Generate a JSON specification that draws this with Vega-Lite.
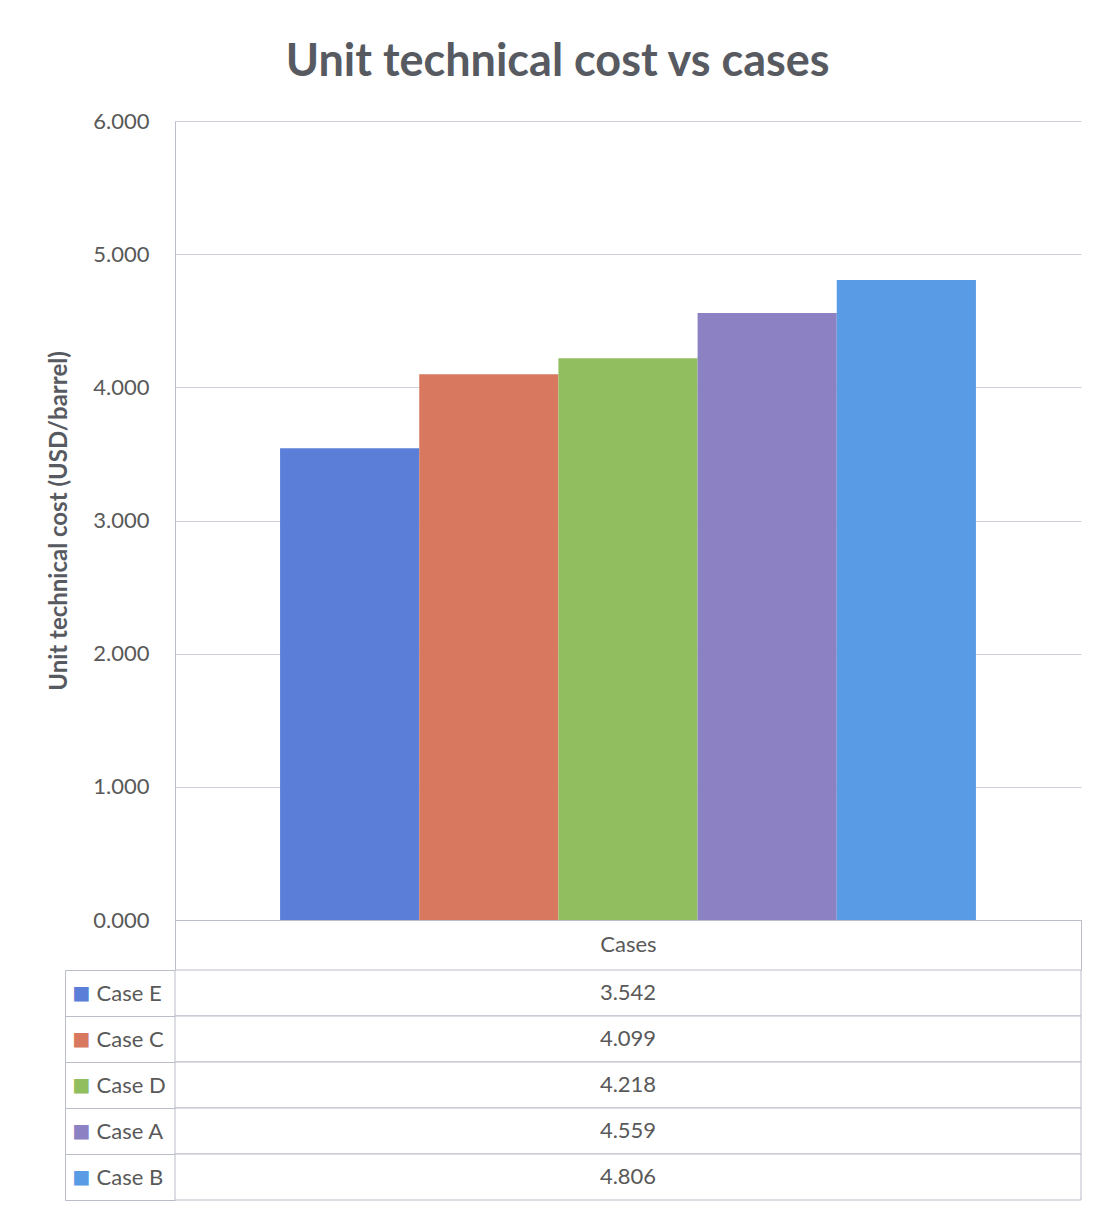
{
  "$schema": "https://vega.github.io/schema/vega-lite/v6.json",
  "background": "white",
  "padding": {"left": 47, "top": 40, "right": 26, "bottom": 8},
  "title": {
    "text": "Unit technical cost vs cases",
    "font": "Lato",
    "fontSize": 45,
    "fontWeight": "bold",
    "color": "#575a60",
    "anchor": "middle",
    "dx": -7,
    "offset": 25
  },
  "data": {
    "values": [
      {"case": "Case E", "group": "Cases", "cost": 3.542},
      {"case": "Case C", "group": "Cases", "cost": 4.099},
      {"case": "Case D", "group": "Cases", "cost": 4.218},
      {"case": "Case A", "group": "Cases", "cost": 4.559},
      {"case": "Case B", "group": "Cases", "cost": 4.806}
    ]
  },
  "bounds": "flush",
  "spacing": 50,
  "resolve": {"scale": {"x": "independent", "y": "independent"}},
  "vconcat": [
    {
      "width": 906,
      "height": 799,
      "mark": {"type": "bar"},
      "encoding": {
        "x": {
          "field": "group",
          "type": "nominal",
          "scale": {"paddingInner": 0, "paddingOuter": 0},
          "axis": {
            "title": null,
            "labelAngle": 0,
            "labelFontSize": 22,
            "labelColor": "#595959",
            "labelPadding": -36,
            "tickBand": "extent",
            "tickSize": 50,
            "tickColor": "#b9bdc7",
            "domainColor": "#b9bdc7"
          }
        },
        "xOffset": {
          "field": "case",
          "type": "nominal",
          "sort": ["Case E", "Case C", "Case D", "Case A", "Case B"],
          "scale": {"paddingInner": 0, "paddingOuter": 0.755}
        },
        "y": {
          "field": "cost",
          "type": "quantitative",
          "scale": {"domain": [0, 6]},
          "axis": {
            "title": "Unit technical cost (USD/barrel)",
            "titleFontSize": 24,
            "titleFontWeight": "bold",
            "titleColor": "#575a60",
            "titlePadding": 21,
            "values": [0, 1, 2, 3, 4, 5, 6],
            "format": ".3f",
            "labelFontSize": 22,
            "labelColor": "#595959",
            "labelPadding": 26,
            "ticks": false,
            "grid": true,
            "domain": true
          }
        },
        "color": {
          "field": "case",
          "type": "nominal",
          "scale": {
            "domain": ["Case E", "Case C", "Case D", "Case A", "Case B"],
            "range": ["#5b7fd8", "#d7785f", "#91be5f", "#8c82c3", "#5a9be6"]
          },
          "legend": null
        }
      }
    },
    {
      "width": 906,
      "height": 230,
      "encoding": {
        "x": {
          "field": "group",
          "type": "nominal",
          "scale": {"paddingInner": 0, "paddingOuter": 0},
          "axis": null
        }
      },
      "layer": [
        {
          "mark": {"type": "rect", "fill": "white", "stroke": "#b9bdc7", "strokeWidth": 1},
          "encoding": {
            "y": {
              "field": "case",
              "type": "nominal",
              "sort": ["Case E", "Case C", "Case D", "Case A", "Case B"],
              "scale": {"paddingInner": 0, "paddingOuter": 0},
              "axis": {
                "orient": "left",
                "offset": 110,
                "title": null,
                "labelExpr": "'■'",
                "labelFont": "DejaVu Sans",
                "labelFontSize": 19,
                "labelAlign": "center",
                "labelPadding": -16,
                "ticks": false,
                "tickSize": 0,
                "grid": false,
                "domain": true,
                "domainColor": "#b9bdc7",
                "labelColor": {
                  "condition": [
                    {"test": "datum.value === 'Case E'", "value": "#5b7fd8"},
                    {"test": "datum.value === 'Case C'", "value": "#d7785f"},
                    {"test": "datum.value === 'Case D'", "value": "#91be5f"},
                    {"test": "datum.value === 'Case A'", "value": "#8c82c3"}
                  ],
                  "value": "#5a9be6"
                }
              }
            }
          }
        },
        {
          "mark": {"type": "text", "fontSize": 22, "color": "#595959", "font": "Lato"},
          "encoding": {
            "text": {"field": "cost", "type": "quantitative", "format": ".3f"},
            "y": {
              "field": "case",
              "type": "nominal",
              "sort": ["Case E", "Case C", "Case D", "Case A", "Case B"],
              "scale": {"paddingInner": 0, "paddingOuter": 0},
              "axis": {
                "orient": "left",
                "title": null,
                "labelFontSize": 22,
                "labelColor": "#595959",
                "labelAlign": "left",
                "labelPadding": -31,
                "tickBand": "extent",
                "tickSize": 110,
                "tickColor": "#b9bdc7",
                "domain": false,
                "grid": false
              }
            }
          }
        }
      ],
      "resolve": {"axis": {"y": "independent"}}
    }
  ],
  "config": {
    "view": {"stroke": null},
    "axis": {
      "labelFont": "Lato",
      "titleFont": "Lato",
      "gridColor": "#ccd0da",
      "domainColor": "#b9bdc7"
    },
    "title": {"font": "Lato"}
  }
}
